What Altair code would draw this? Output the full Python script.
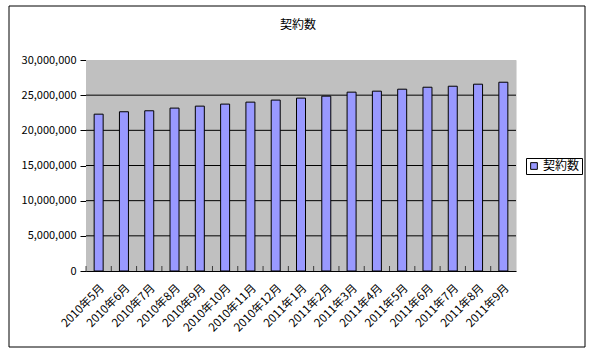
import altair as alt
import pandas as pd

months = ["2010年5月", "2010年6月", "2010年7月", "2010年8月", "2010年9月", "2010年10月",
          "2010年11月", "2010年12月", "2011年1月", "2011年2月", "2011年3月", "2011年4月",
          "2011年5月", "2011年6月", "2011年7月", "2011年8月", "2011年9月"]
values = [22300000, 22640000, 22780000, 23160000, 23440000, 23730000, 24010000, 24300000,
          24580000, 24860000, 25430000, 25570000, 25850000, 26130000, 26270000, 26560000,
          26840000]
y_ticks = [0, 5000000, 10000000, 15000000, 20000000, 25000000, 30000000]
series = "契約数"
chart_title = "契約数"

df = pd.DataFrame({"month": months, "value": values, "series": series})
tdf = pd.DataFrame({"t": [chart_title]})
gdf = pd.DataFrame({"value": y_ticks[1:-1]})

FONT = "Noto Sans CJK JP"

xenc = alt.X("month:N", sort=months,
             scale=alt.Scale(paddingInner=0.64, paddingOuter=0.32),
             axis=alt.Axis(title=None, labelAngle=-45, labelFontSize=11.5, labelFont=FONT,
                           labelColor="black", ticks=False, domainColor="black",
                           labelPadding=11))
yaxis = alt.Axis(title=None, values=y_ticks, grid=False, labelOverlap=False,
                 format=",.0f", labelFontSize=11, labelFont=FONT, labelColor="black",
                 tickSize=6, tickColor="black", domainColor="black", labelPadding=4)
yenc = alt.Y("value:Q", scale=alt.Scale(domain=[0, 30000000], nice=False), axis=yaxis)

plotbg = alt.Chart(tdf).mark_rect(color="#C0C0C0").encode(
    x=alt.value(0), x2=alt.value(430), y=alt.value(0), y2=alt.value(211))

border = alt.Chart(tdf).mark_rect(filled=False, stroke="black", strokeWidth=1,
                                  clip=False).encode(
    x=alt.value(-77), x2=alt.value(499), y=alt.value(-54), y2=alt.value(287))

grid = alt.Chart(gdf).mark_rule(color="black", strokeWidth=1).encode(
    y=yenc, x=alt.value(0), x2=alt.value(430))

title = alt.Chart(tdf).mark_text(font=FONT, fontSize=12, color="black",
                                 baseline="middle", align="center").encode(
    text="t:N", x=alt.value(212), y=alt.value(-35))

bars = alt.Chart(df).mark_bar(stroke="black", strokeWidth=1, size=9).encode(
    x=xenc, y=yenc,
    color=alt.Color("series:N", scale=alt.Scale(range=["#9999FF"]),
                    legend=alt.Legend(title=None, orient="none", legendX=440, legendY=98,
                                      strokeColor="black", fillColor="white", padding=2,
                                      symbolType="square", symbolStrokeColor="black",
                                      symbolStrokeWidth=1, symbolSize=45, labelOffset=3,
                                      labelFontSize=12, labelFont=FONT, labelColor="black",
                                      symbolOpacity=1)))

ticks = alt.Chart(df).mark_tick(color="black", orient="vertical", size=5, xOffset=-12.65,
                                thickness=1).encode(
    x=alt.X("month:N", sort=months), y=alt.value(208.5))

chart = alt.layer(plotbg, border, grid, title, bars, ticks).properties(
    width=430, height=211,
    padding={"left": 86, "top": 60, "right": 77, "bottom": 87},
    autosize="none",
).configure_view(fill="#C0C0C0", stroke="#808080", strokeWidth=1).configure(
    background="white")

chart.save("out.html", embed_options={"renderer": "svg", "actions": False})
